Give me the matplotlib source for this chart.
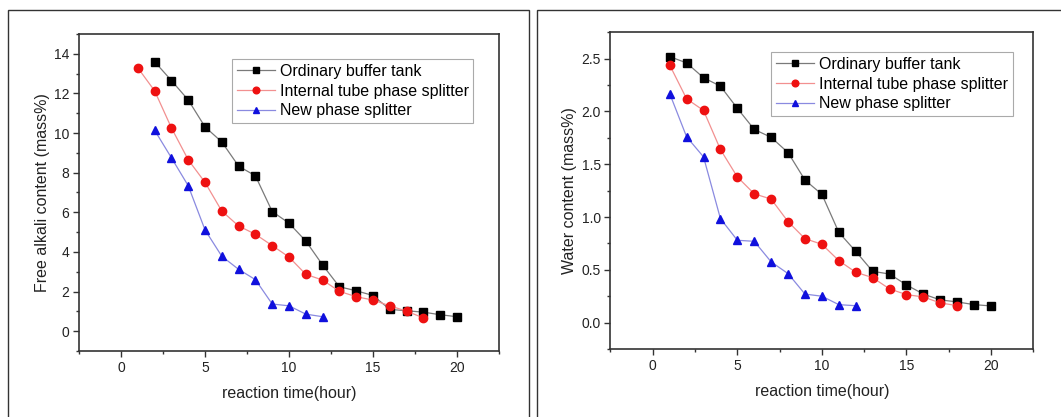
import matplotlib
matplotlib.use("Agg")
import matplotlib.pyplot as plt
from matplotlib.patches import Rectangle
from matplotlib.ticker import MultipleLocator

plt.rcParams['font.family'] = ['Liberation Sans', 'DejaVu Sans']

series_labels = ["Ordinary buffer tank", "Internal tube phase splitter", "New phase splitter"]

# Left panel: free alkali content (mass%)
alk_x_black = list(range(2, 21))
alk_black = [13.6, 12.65, 11.67, 10.31, 9.55, 8.33, 7.84, 6.04, 5.45, 4.55, 3.34, 2.24, 2.04, 1.80, 1.10, 1.03, 0.96, 0.83, 0.73]
alk_x_red = list(range(1, 19))
alk_red = [13.29, 12.13, 10.26, 8.65, 7.51, 6.06, 5.31, 4.89, 4.32, 3.74, 2.87, 2.58, 2.01, 1.74, 1.57, 1.28, 1.01, 0.67]
alk_x_blue = list(range(2, 13))
alk_blue = [10.14, 8.75, 7.34, 5.11, 3.78, 3.12, 2.60, 1.37, 1.28, 0.86, 0.73]

# Right panel: water content (mass%)
wat_x_black = list(range(1, 21))
wat_black = [2.52, 2.46, 2.32, 2.24, 2.03, 1.83, 1.755, 1.61, 1.35, 1.215, 0.855, 0.675, 0.486, 0.46, 0.357, 0.27, 0.215, 0.196, 0.17, 0.158]
wat_x_red = list(range(1, 19))
wat_red = [2.44, 2.12, 2.01, 1.64, 1.38, 1.22, 1.17, 0.956, 0.795, 0.742, 0.587, 0.477, 0.426, 0.319, 0.265, 0.243, 0.186, 0.161]
wat_x_blue = list(range(1, 13))
wat_blue = [2.17, 1.76, 1.57, 0.985, 0.78, 0.77, 0.575, 0.464, 0.27, 0.25, 0.17, 0.16]

fig = plt.figure(figsize=(10.61, 4.17), dpi=100)

# panel frames
fig.patches.append(Rectangle((8/1061, -0.05), (529-8)/1061, 1 - 10/417 + 0.05,
                             transform=fig.transFigure, fill=False, edgecolor='#333333', lw=1.0))
fig.patches.append(Rectangle((537/1061, -0.05), 0.6, 1 - 10/417 + 0.05,
                             transform=fig.transFigure, fill=False, edgecolor='#333333', lw=1.0))

ax1 = fig.add_axes([0.0745, 0.1583, 0.3958, 0.7602])
ax2 = fig.add_axes([0.5754, 0.1631, 0.3985, 0.7594])

styles = [
    dict(marker='s', color='black', line='#7a7a7a'),
    dict(marker='o', color='#ee1111', line='#f29090'),
    dict(marker='^', color='#1010dd', line='#8a8ae0'),
]

def draw(ax, xs, ys, ylabel, ylim, ymaj, ymin, leg_anchor):
    for (x, y), st, lab in zip(zip(xs, ys), styles, series_labels):
        ax.plot(x, y, color=st['line'], lw=0.9, marker=st['marker'], markersize=6,
                markerfacecolor=st['color'], markeredgecolor=st['color'], label=lab)
    ax.set_xlim(-2.5, 22.5)
    ax.set_ylim(*ylim)
    ax.xaxis.set_major_locator(MultipleLocator(5))
    ax.xaxis.set_minor_locator(MultipleLocator(2.5))
    ax.yaxis.set_major_locator(MultipleLocator(ymaj))
    ax.yaxis.set_minor_locator(MultipleLocator(ymin))
    ax.tick_params(which='both', direction='out', top=False, right=False,
                   color='#333333', width=1.0, labelsize=10, labelcolor='#222222')
    ax.tick_params(which='major', length=4, pad=3)
    ax.tick_params(which='minor', length=2.5)
    for sp in ax.spines.values():
        sp.set_color('#333333')
        sp.set_linewidth(1.2)
    ax.set_xlabel("reaction time(hour)", fontsize=11.5, color='#222222', labelpad=8)
    ax.set_ylabel(ylabel, fontsize=11.5, color='#222222', labelpad=3)
    leg = ax.legend(loc='upper left', bbox_to_anchor=leg_anchor, borderaxespad=0,
                    fontsize=11.5, frameon=True, fancybox=False, framealpha=1,
                    edgecolor='#aaaaaa', handlelength=2.4, handletextpad=0.3,
                    labelspacing=0.3, borderpad=0.3, markerscale=0.8)
    leg.get_frame().set_linewidth(0.8)

draw(ax1, [alk_x_black, alk_x_red, alk_x_blue], [alk_black, alk_red, alk_blue],
     "Free alkali content (mass%)", (-1, 15), 2, 1, (0.3636, 0.921))
draw(ax2, [wat_x_black, wat_x_red, wat_x_blue], [wat_black, wat_red, wat_blue],
     "Water content (mass%)", (-0.25, 2.75), 0.5, 0.25, (0.3796, 0.938))

fig.savefig("out.png", dpi=100)
